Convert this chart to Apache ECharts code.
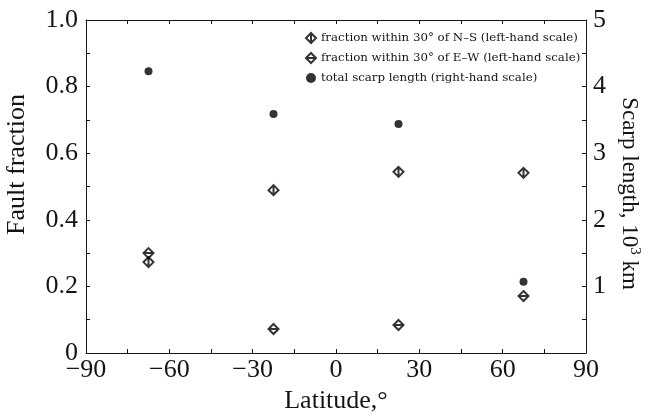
<!DOCTYPE html>
<html>
<head>
<meta charset="utf-8">
<script src="https://cdn.jsdelivr.net/npm/echarts@6/dist/echarts.min.js"></script>
<style>
html,body{margin:0;padding:0;background:#fff;}
#chart{width:649px;height:415px;}
</style>
</head>
<body>
<div id="chart"></div>
<script>
const latitudes = [-67.5, -22.5, 22.5, 67.5];
const fracNS = [0.273, 0.489, 0.544, 0.541];
const fracEW = [0.300, 0.072, 0.084, 0.171];
const scarpLength = [4.23, 3.59, 3.44, 1.07];
const seriesNames = [
  'fraction within 30° of N–S (left-hand scale)',
  'fraction within 30° of E–W (left-hand scale)',
  'total scarp length (right-hand scale)'
];

const FONT = 'Liberation Serif';
const INK = '#151515';
const symNS = 'path://M5,0 L10,5 L5,10 L0,5 Z M5,0 L5,10';
const symEW = 'path://M5,0 L10,5 L5,10 L0,5 Z M0,5 L10,5';

function pairs(ys){ return latitudes.map((x,i)=>[x, ys[i]]); }

const lineStyle = {color: INK, width: 1};
const chart = echarts.init(document.getElementById('chart'), null, {renderer:'canvas'});
chart.setOption({
  animation: false,
  backgroundColor: '#fff',
  grid: {left: 86, right: 63, top: 20, bottom: 62, containLabel: false, outerBoundsMode: 'none'},
  legend: {
    orient: 'vertical', left: 300, top: 27, itemGap: 8,
    itemWidth: 10, itemHeight: 10,
    textStyle: {fontFamily: 'DejaVu Serif', fontSize: 11.8, color: INK},
    data: seriesNames
  },
  xAxis: [{
    type: 'value', min: -90, max: 90, interval: 30, position: 'bottom',
    axisLine: {show: true, onZero: false, lineStyle},
    axisTick: {show: true, inside: true, length: 4, lineStyle},
    minorTick: {show: true, splitNumber: 2, length: 4, lineStyle},
    splitLine: {show: false},
    axisLabel: {fontFamily: FONT, fontSize: 26, color: INK, margin: 4,
      formatter: v => (v < 0 ? '\u2212' + Math.abs(v) : String(v))},
    name: 'Latitude,°', nameLocation: 'middle', nameGap: 30,
    nameTextStyle: {fontFamily: FONT, fontSize: 26, color: INK}
  }, {
    type: 'value', min: -90, max: 90, interval: 30, position: 'top',
    axisLine: {show: true, onZero: false, lineStyle},
    axisTick: {show: true, inside: true, length: 4, lineStyle},
    minorTick: {show: true, splitNumber: 2, length: 4, lineStyle},
    splitLine: {show: false},
    axisLabel: {show: false}
  }],
  yAxis: [{
    type: 'value', min: 0, max: 1, interval: 0.2, position: 'left',
    axisLine: {show: true, onZero: false, lineStyle},
    axisTick: {show: true, inside: true, length: 4, lineStyle},
    minorTick: {show: true, splitNumber: 2, length: 4, lineStyle},
    splitLine: {show: false},
    axisLabel: {fontFamily: FONT, fontSize: 26, color: INK, margin: 8,
      formatter: v => (v === 0 ? '0' : v.toFixed(1))},
    name: 'Fault fraction', nameLocation: 'middle', nameGap: 56,
    nameTextStyle: {fontFamily: FONT, fontSize: 26, color: INK, padding: [0, 0, 0, 44]}
  }, {
    type: 'value', min: 0, max: 5, interval: 1, position: 'right',
    axisLine: {show: true, onZero: false, lineStyle},
    axisTick: {show: true, inside: true, length: 4, lineStyle},
    minorTick: {show: true, splitNumber: 2, length: 4, lineStyle},
    splitLine: {show: false},
    axisLabel: {fontFamily: FONT, fontSize: 26, color: INK, margin: 7,
      formatter: v => (v === 0 ? '' : String(v))},
    name: 'Scarp length, 10{sup|3} km', nameLocation: 'middle', nameGap: 30, nameRotate: -90,
    nameTextStyle: {fontFamily: FONT, fontSize: 23, color: INK, padding: [0, 0, 0, 14],
      rich: {sup: {fontFamily: FONT, fontSize: 15, color: INK, verticalAlign: 'top', padding: [0,0,11,0]}}}
  }],
  series: [{
    name: seriesNames[0], type: 'scatter', xAxisIndex: 0, yAxisIndex: 0,
    symbol: symNS, symbolSize: 10, data: pairs(fracNS),
    itemStyle: {color: 'rgba(0,0,0,0)', borderColor: '#000', borderWidth: 2}
  }, {
    name: seriesNames[1], type: 'scatter', xAxisIndex: 0, yAxisIndex: 0,
    symbol: symEW, symbolSize: 10, data: pairs(fracEW),
    itemStyle: {color: 'rgba(0,0,0,0)', borderColor: '#000', borderWidth: 2}
  }, {
    name: seriesNames[2], type: 'scatter', xAxisIndex: 0, yAxisIndex: 1,
    symbol: 'circle', symbolSize: 8, data: pairs(scarpLength),
    itemStyle: {color: '#000'}
  }]
});
</script>
</body>
</html>
